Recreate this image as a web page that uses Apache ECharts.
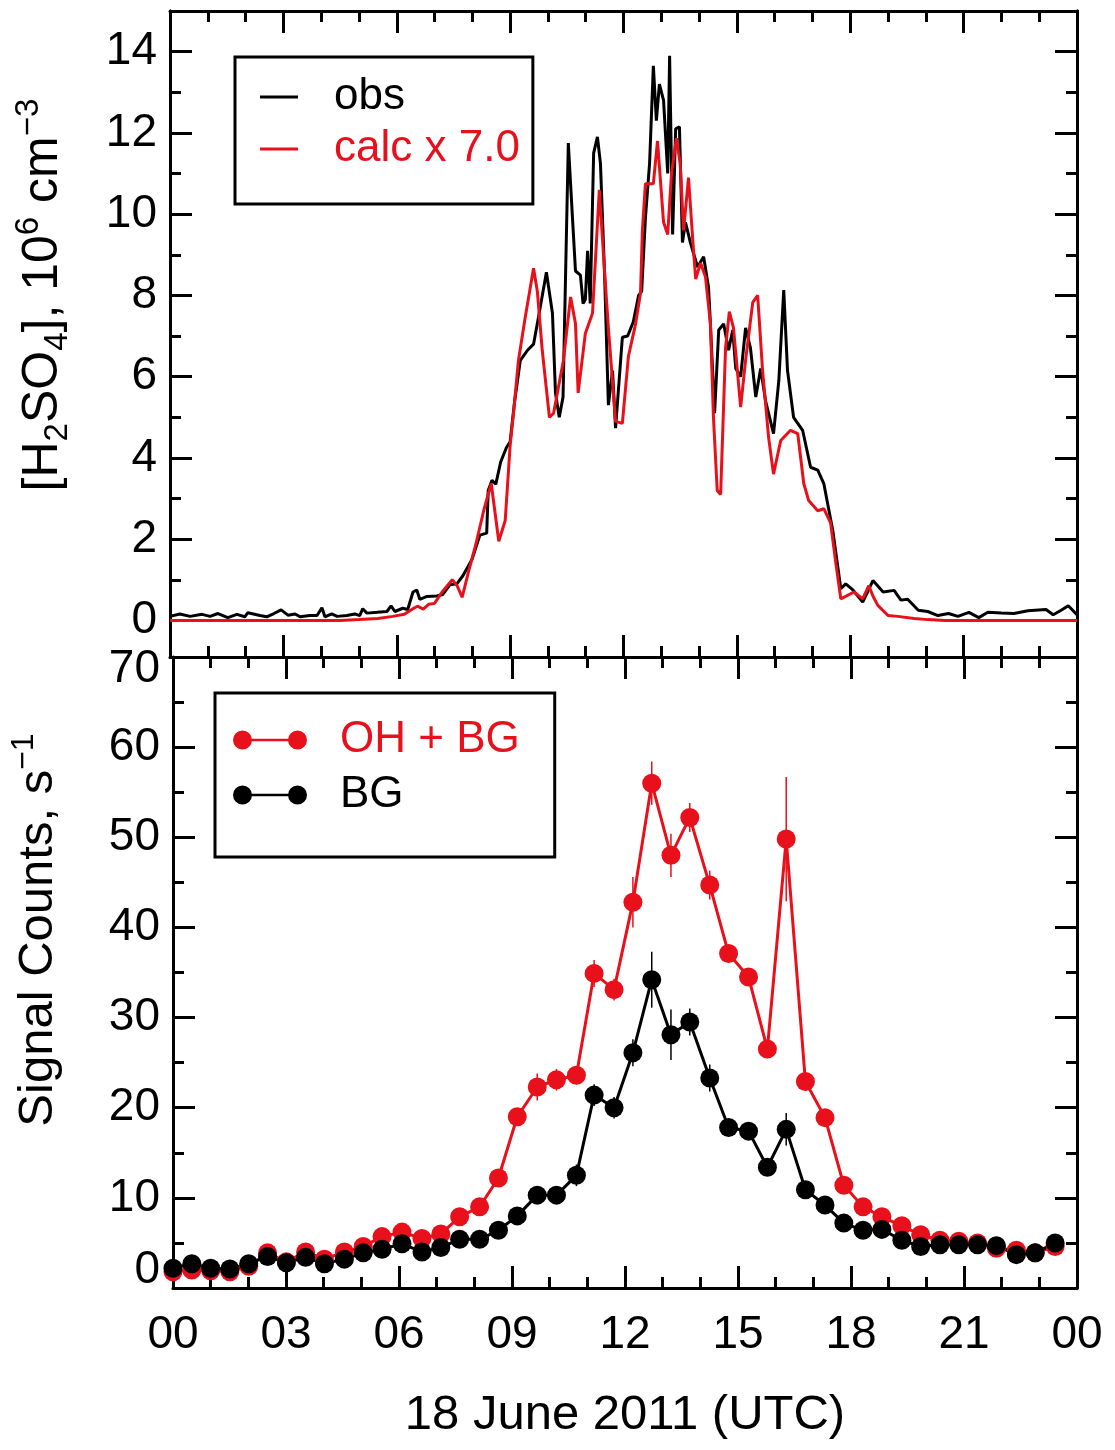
<!DOCTYPE html>
<html>
<head>
<meta charset="utf-8">
<script src="https://cdn.jsdelivr.net/npm/echarts@6/dist/echarts.min.js"></script>
<style>
  html, body { margin: 0; padding: 0; background: #fff; }
  #chart { width: 1115px; height: 1450px; }
</style>
</head>
<body>
<div id="chart"></div>
<script>
// hour labels on the shared time axis (0..24 h, every 3 h)
const hourLabels = ['00', '03', '06', '09', '12', '15', '18', '21', '00'];

// top panel: [hour, 10^6 cm^-3]
const obsData = [
  [0.00,0.10],[0.26,0.16],[0.53,0.10],[0.85,0.15],[1.06,0.10],[1.27,0.17],[1.53,0.07],[1.77,0.15],
  [1.98,0.09],[2.06,0.19],[2.38,0.12],[2.56,0.09],[2.75,0.17],[2.94,0.26],[3.12,0.13],[3.31,0.16],
  [3.44,0.09],[3.70,0.12],[3.89,0.12],[4.02,0.31],[4.10,0.09],[4.28,0.16],[4.42,0.10],[4.68,0.12],
  [4.89,0.16],[5.02,0.12],[5.10,0.29],[5.21,0.18],[5.48,0.20],[5.74,0.22],[5.85,0.36],[5.95,0.22],
  [6.16,0.30],[6.29,0.27],[6.43,0.70],[6.53,0.75],[6.61,0.52],[6.80,0.59],[7.06,0.60],[7.22,0.64],
  [7.41,0.88],[7.59,0.90],[7.75,1.10],[7.99,1.50],[8.20,2.10],[8.38,2.15],[8.42,3.20],[8.52,3.45],
  [8.62,3.35],[8.75,3.90],[8.90,4.25],[9.00,4.40],[9.12,5.40],[9.27,6.40],[9.46,6.65],[9.62,6.80],
  [9.75,7.46],[9.96,8.57],[10.12,7.56],[10.20,5.60],[10.30,5.00],[10.40,5.50],[10.54,11.75],[10.65,9.90],
  [10.73,8.60],[10.86,8.50],[10.93,7.80],[10.99,7.90],[11.05,9.10],[11.12,7.80],[11.21,11.50],[11.31,11.90],
  [11.39,11.25],[11.50,8.50],[11.60,5.30],[11.71,6.15],[11.79,4.73],[11.97,6.97],[12.11,7.00],[12.26,7.35],
  [12.40,8.00],[12.48,8.10],[12.58,9.90],[12.69,11.25],[12.79,13.65],[12.87,12.30],[12.95,13.20],[13.06,12.80],
  [13.17,11.00],[13.22,13.90],[13.30,9.50],[13.38,12.10],[13.48,12.15],[13.56,9.30],[13.64,9.80],[13.77,9.30],
  [13.96,8.70],[14.12,8.95],[14.25,8.20],[14.30,7.30],[14.41,5.10],[14.52,7.15],[14.65,7.30],[14.78,6.65],
  [14.89,7.15],[14.97,6.20],[15.10,6.00],[15.23,7.20],[15.36,6.70],[15.50,5.50],[15.63,6.20],[15.76,5.40],
  [15.97,4.60],[16.11,5.90],[16.24,8.13],[16.34,6.15],[16.50,5.00],[16.74,4.68],[16.95,3.77],[17.14,3.70],
  [17.30,3.37],[17.54,2.20],[17.75,0.78],[17.88,0.90],[18.07,0.75],[18.33,0.45],[18.60,0.98],[18.87,0.70],
  [19.16,0.74],[19.34,0.50],[19.52,0.52],[19.80,0.25],[20.05,0.22],[20.32,0.12],[20.60,0.17],[20.85,0.10],
  [21.14,0.20],[21.40,0.07],[21.64,0.20],[22.00,0.18],[22.33,0.17],[22.70,0.24],[23.18,0.27],[23.37,0.14],
  [23.58,0.25],[23.77,0.36],[24.00,0.14]
];
const calcData = [
  [0.00,0.00],[4.50,0.00],[5.00,0.02],[5.50,0.05],[5.90,0.10],[6.20,0.15],[6.45,0.30],[6.55,0.35],
  [6.70,0.28],[6.85,0.40],[7.00,0.42],[7.20,0.70],[7.47,1.00],[7.60,0.85],[7.73,0.57],[7.90,1.20],
  [8.10,1.90],[8.30,2.70],[8.50,3.37],[8.70,1.95],[8.87,2.46],[9.00,4.30],[9.10,5.20],[9.22,6.40],
  [9.40,7.46],[9.62,8.67],[9.72,8.10],[9.85,6.65],[10.04,5.00],[10.15,5.10],[10.41,6.40],[10.60,7.96],
  [10.73,7.30],[10.80,5.60],[10.99,7.06],[11.18,7.56],[11.36,10.60],[11.47,9.00],[11.60,7.20],[11.79,4.90],
  [11.97,4.85],[12.13,6.50],[12.32,7.30],[12.45,8.05],[12.50,9.60],[12.58,10.75],[12.79,10.75],[12.90,11.80],
  [12.98,10.80],[13.06,9.80],[13.17,9.50],[13.27,11.00],[13.40,11.87],[13.50,11.25],[13.59,9.60],[13.72,10.90],
  [13.83,9.40],[13.91,8.40],[14.04,8.80],[14.17,8.45],[14.30,7.30],[14.38,5.00],[14.48,3.20],[14.57,3.10],
  [14.70,6.70],[14.80,7.60],[14.91,7.20],[15.10,5.25],[15.23,6.40],[15.42,7.83],[15.55,8.00],[15.68,6.15],
  [15.84,4.50],[15.97,3.60],[16.16,4.43],[16.42,4.68],[16.61,4.60],[16.77,3.37],[16.90,2.95],[17.14,2.70],
  [17.30,2.75],[17.48,2.40],[17.62,1.40],[17.75,0.53],[18.10,0.70],[18.33,0.53],[18.49,0.86],[18.60,0.60],
  [18.73,0.37],[19.00,0.12],[19.26,0.10],[19.69,0.05],[20.05,0.02],[20.50,0.00],[24.00,0.00]
];

// bottom panel: signal counts (s^-1) per measurement cycle
const countTimes = [
  0.00, 0.50, 1.00, 1.51, 2.01, 2.51, 3.01, 3.52, 4.02, 4.55, 5.05, 5.55, 6.08, 6.61, 7.11, 7.61,
  8.14, 8.64, 9.14, 9.67, 10.18, 10.71, 11.18, 11.71, 12.21, 12.71, 13.22, 13.72, 14.25, 14.75, 15.28, 15.78,
  16.28, 16.79, 17.31, 17.81, 18.32, 18.82, 19.35, 19.85, 20.36, 20.86, 21.36, 21.86, 22.39, 22.89, 23.42
];
const ohbgCounts = [
  1.8, 2.0, 1.9, 1.8, 2.4, 3.9, 2.9, 4.0, 3.2, 4.0, 4.6, 5.7, 6.2, 5.5, 6.0, 7.9,
  9.0, 12.2, 19.0, 22.3, 23.1, 23.6, 34.9, 33.1, 42.8, 56.0, 48.0, 52.2, 44.7, 37.1, 34.5, 26.5,
  49.8, 22.9, 18.9, 11.4, 9.0, 7.9, 6.9, 5.9, 5.3, 5.2, 5.0, 4.4, 4.2, 3.9, 4.6
];
const ohbgErr = [
  0.5, 0.5, 0.5, 0.5, 0.5, 0.5, 0.5, 0.5, 0.5, 0.5, 0.5, 0.5, 0.5, 0.5, 0.5, 0.5,
  0.5, 0.6, 0.8, 1.5, 1.2, 1.0, 1.5, 1.2, 2.8, 2.4, 2.4, 1.6, 1.6, 1.0, 1.0, 1.0,
  6.9, 1.0, 0.8, 0.6, 0.5, 0.5, 0.5, 0.5, 0.5, 0.5, 0.5, 0.5, 0.5, 0.5, 0.5
];
const bgCounts = [
  2.2, 2.7, 2.2, 2.1, 2.7, 3.5, 2.8, 3.4, 2.7, 3.2, 3.9, 4.3, 4.9, 4.0, 4.5, 5.4,
  5.4, 6.4, 8.0, 10.3, 10.3, 12.5, 21.4, 20.0, 26.1, 34.2, 28.1, 29.5, 23.3, 17.8, 17.4, 13.4,
  17.6, 10.9, 9.2, 7.2, 6.4, 6.5, 5.3, 4.6, 4.8, 4.8, 4.8, 4.7, 3.7, 3.9, 5.0
];
const bgErr = [
  0.5, 0.5, 0.5, 0.5, 0.5, 0.5, 0.5, 0.5, 0.5, 0.5, 0.5, 0.5, 0.5, 0.5, 0.5, 0.5,
  0.5, 0.5, 0.6, 0.8, 0.8, 1.2, 1.2, 1.2, 1.5, 3.1, 2.8, 1.5, 1.5, 0.8, 0.8, 0.8,
  1.8, 0.8, 0.6, 0.5, 0.5, 0.5, 0.5, 0.5, 0.5, 0.5, 0.5, 0.5, 0.5, 0.5, 0.5
];

const RED = '#e8101a';
const BLACK = '#000000';
const FONT = "'Liberation Sans', Arial, Helvetica, sans-serif";

const chart = echarts.init(document.getElementById('chart'), null, { renderer: 'canvas' });

const frameLine = { show: true, onZero: false, lineStyle: { color: '#000', width: 3 } };
const majorTick = (len) => ({ show: true, inside: true, length: len, lineStyle: { color: '#000', width: 3 } });

function timeAxis(grid, pos, withLabels) {
  const ax = {
    type: 'value', gridIndex: grid, position: pos,
    min: 0, max: 24, interval: 3,
    axisLine: frameLine,
    axisTick: majorTick(22),
    minorTick: { show: true, splitNumber: 3, length: 11, lineStyle: { color: '#000', width: 3 } },
    splitLine: { show: false },
    minorSplitLine: { show: false },
    axisLabel: { show: false }
  };
  if (withLabels) {
    ax.axisLabel = {
      show: true, margin: 24, fontSize: 46, fontFamily: FONT, color: '#000',
      formatter: v => hourLabels[Math.round(v / 3)]
    };
    ax.name = '18 June 2011 (UTC)';
    ax.nameLocation = 'middle';
    ax.nameGap = 103;
    ax.nameTextStyle = { fontSize: 49, fontFamily: FONT, color: '#000' };
  }
  return ax;
}

// top panel y: 0..14 shown, frame from -0.9 to 15
const topMajor = [0, 2, 4, 6, 8, 10, 12, 14];
const topMinor = [1, 3, 5, 7, 9, 11, 13];
function topYAxis(pos, ticks, len, withLabels) {
  const ax = {
    type: 'value', gridIndex: 0, position: pos, min: -0.9, max: 15,
    axisLine: frameLine,
    axisTick: Object.assign(majorTick(len), { customValues: ticks }),
    splitLine: { show: false },
    axisLabel: { show: false }
  };
  if (withLabels) {
    ax.axisLabel = { show: true, customValues: ticks, margin: 13, fontSize: 46, fontFamily: FONT, color: '#000' };
    ax.name = '{sp| }{n|[H}{sub|2}{n|SO}{sub|4}{n|], 10}{sup|6}{n| cm}{sup|\u22123}';
    ax.nameLocation = 'middle';
    ax.nameGap = 96;
    ax.nameTextStyle = {
      color: '#000',
      rich: {
        sp: { width: 78, fontSize: 50, fontFamily: FONT },
        n: { fontSize: 50, lineHeight: 62, fontFamily: FONT, color: '#000' },
        sub: { fontSize: 33, verticalAlign: 'bottom', fontFamily: FONT, color: '#000' },
        sup: { fontSize: 33, verticalAlign: 'top', fontFamily: FONT, color: '#000' }
      }
    };
  }
  return ax;
}

function countAxis(pos, withLabels) {
  const ax = {
    type: 'value', gridIndex: 1, position: pos, min: 0, max: 70, interval: 10,
    axisLine: frameLine,
    axisTick: majorTick(22),
    minorTick: { show: true, splitNumber: 2, length: 11, lineStyle: { color: '#000', width: 3 } },
    splitLine: { show: false },
    minorSplitLine: { show: false },
    axisLabel: { show: false }
  };
  if (withLabels) {
    const lab = { fontSize: 46, fontFamily: FONT, color: '#000' };
    ax.axisLabel = {
      show: true, margin: 13, fontSize: 46, fontFamily: FONT, color: '#000',
      formatter: v => v === 70 ? '{hi|70}' : (v === 0 ? '{lo|0}' : String(v)),
      rich: {
        hi: Object.assign({ padding: [24, 0, 0, 0] }, lab),
        lo: Object.assign({ padding: [0, 0, 36, 0] }, lab)
      }
    };
    ax.name = '{sp| }{n|Signal Counts, s}{sup|\u22121}';
    ax.nameLocation = 'middle';
    ax.nameGap = 104;
    ax.nameTextStyle = {
      color: '#000',
      rich: {
        sp: { width: 85, fontSize: 49, fontFamily: FONT },
        n: { fontSize: 49, lineHeight: 61, fontFamily: FONT, color: '#000' },
        sup: { fontSize: 32, verticalAlign: 'top', fontFamily: FONT, color: '#000' }
      }
    };
  }
  return ax;
}

function errorBars(name, values, errs, color) {
  return {
    type: 'custom', name: name, xAxisIndex: 2, yAxisIndex: 4, clip: true,
    data: countTimes.map((t, i) => [t, values[i] - errs[i], values[i] + errs[i]]),
    encode: { x: 0, y: [1, 2] },
    renderItem: (params, api) => {
      const lo = api.coord([api.value(0), api.value(1)]);
      const hi = api.coord([api.value(0), api.value(2)]);
      return {
        type: 'line',
        shape: { x1: lo[0], y1: lo[1], x2: hi[0], y2: hi[1] },
        style: { stroke: color, lineWidth: 1.5 }
      };
    }
  };
}

function countSeries(name, values, color) {
  return {
    type: 'line', name: name, xAxisIndex: 2, yAxisIndex: 4,
    data: countTimes.map((t, i) => [t, values[i]]),
    symbol: 'circle', symbolSize: 19, showSymbol: true,
    color: color,
    lineStyle: { color: color, width: 3 },
    itemStyle: { color: color, borderWidth: 0 }
  };
}

const dumbbell = 'path://M0,9.5A9.5,9.5,0,1,1,19,9.5A9.5,9.5,0,1,1,0,9.5Z' +
  'M55,9.5A9.5,9.5,0,1,1,74,9.5A9.5,9.5,0,1,1,55,9.5Z' +
  'M9.5,8.2L64.5,8.2L64.5,10.8L9.5,10.8Z';

const option = {
  animation: false,
  backgroundColor: '#fff',
  textStyle: { fontFamily: FONT },
  grid: [
    { left: 170, width: 907, top: 11, height: 646 },
    { left: 170, width: 907, top: 657, height: 631 }
  ],
  xAxis: [
    timeAxis(0, 'bottom', false),
    timeAxis(0, 'top', false),
    timeAxis(1, 'bottom', true),
    timeAxis(1, 'top', false)
  ],
  yAxis: [
    topYAxis('left', topMajor, 22, true),
    topYAxis('left', topMinor, 11, false),
    topYAxis('right', topMajor, 22, false),
    topYAxis('right', topMinor, 11, false),
    countAxis('left', true),
    countAxis('right', false)
  ],
  legend: [
    {
      orient: 'vertical', left: 235, top: 57,
      padding: [18, 13, 33, 25],
      borderColor: '#000', borderWidth: 3,
      itemGap: 8, itemWidth: 38, itemHeight: 3, icon: 'rect',
      selectedMode: false,
      textStyle: { fontSize: 44, fontFamily: FONT, padding: [0, 0, 0, 31] },
      data: [
        { name: 'obs', textStyle: { color: BLACK } },
        { name: 'calc x 7.0', textStyle: { color: RED } }
      ]
    },
    {
      orient: 'vertical', left: 215, top: 693,
      padding: [25, 35, 40, 18],
      borderColor: '#000', borderWidth: 3,
      itemGap: 11, itemWidth: 74, itemHeight: 19, icon: dumbbell,
      selectedMode: false,
      textStyle: { fontSize: 44, fontFamily: FONT, padding: [0, 0, 0, 28] },
      data: [
        { name: 'OH + BG', textStyle: { color: RED } },
        { name: 'BG', textStyle: { color: BLACK } }
      ]
    }
  ],
  series: [
    {
      type: 'line', name: 'obs', xAxisIndex: 0, yAxisIndex: 0,
      data: obsData, showSymbol: false, symbol: 'none', color: BLACK,
      lineStyle: { color: BLACK, width: 3 }
    },
    {
      type: 'line', name: 'calc x 7.0', xAxisIndex: 0, yAxisIndex: 0,
      data: calcData, showSymbol: false, symbol: 'none', color: RED,
      lineStyle: { color: RED, width: 3 }
    },
    errorBars('OH + BG error', ohbgCounts, ohbgErr, RED),
    countSeries('OH + BG', ohbgCounts, RED),
    errorBars('BG error', bgCounts, bgErr, BLACK),
    countSeries('BG', bgCounts, BLACK)
  ]
};

chart.setOption(option);
</script>
</body>
</html>
